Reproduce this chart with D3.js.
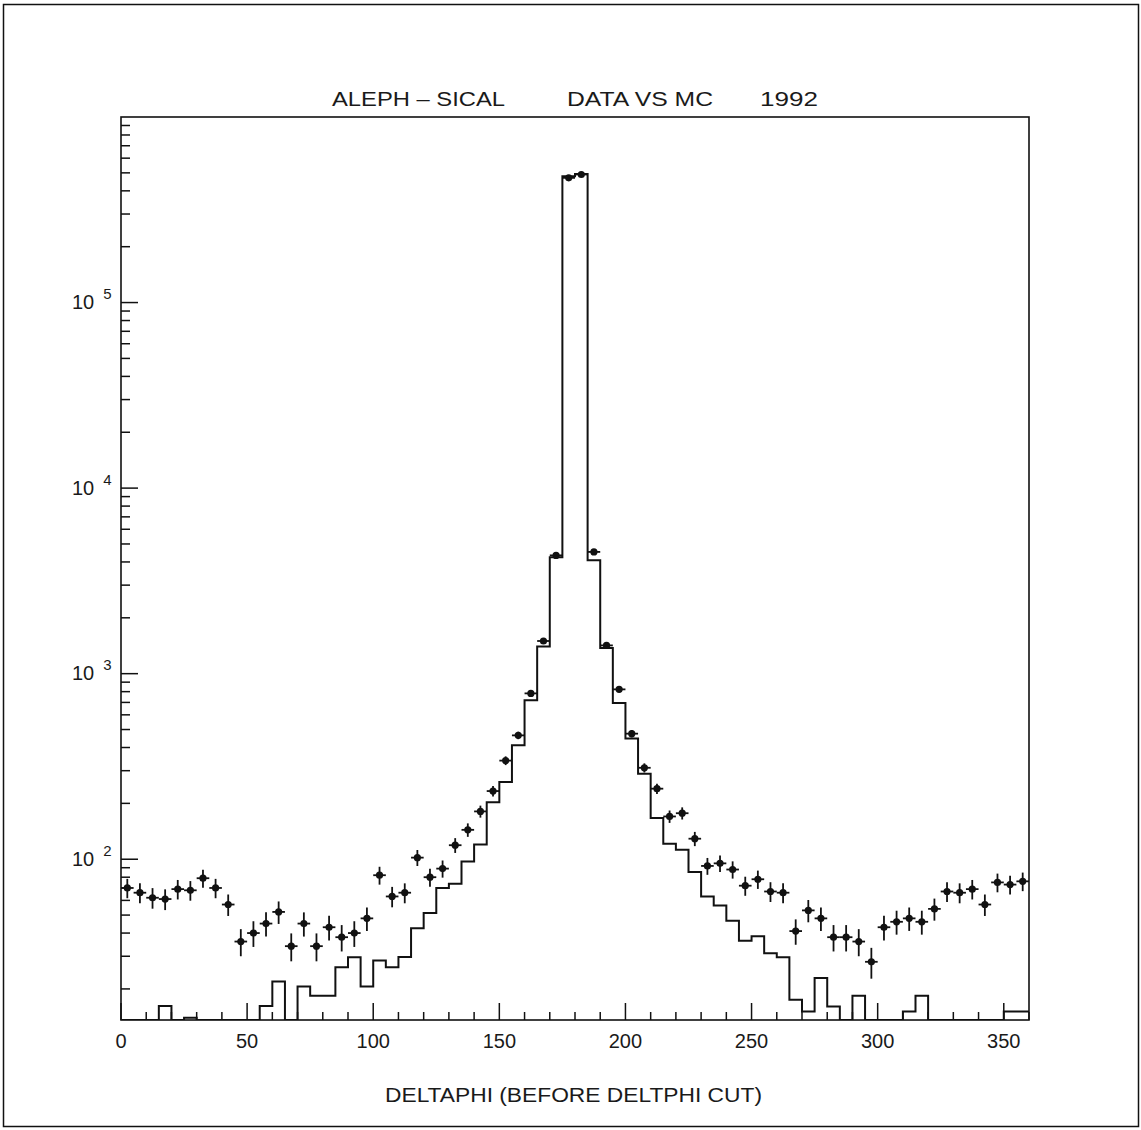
<!DOCTYPE html>
<html>
<head>
<meta charset="utf-8">
<script src="https://cdn.jsdelivr.net/npm/d3@7"></script>
<style>
  body { margin: 0; background: #fff; }
  svg { display: block; }
  text { font-family: "Liberation Sans", Arial, sans-serif; fill: #1a1a1a; }
</style>
</head>
<body>
<div id="chart"></div>
<script>
let w = 1141;
let h = 1130;

// 72 bins of 5 degrees, 0..360
let binWidth = 5;
let binEdges = d3.range(0, 360, binWidth);

// measured data (dots with error bars)
let dataCounts = [70, 66, 62, 61, 69, 68, 79, 70, 57, 36, 40, 45, 52, 34, 45, 34, 43, 38,
    40, 48, 82, 63, 66, 102, 80, 89, 119, 144, 181, 233, 340, 465, 783, 1500, 4340, 470000,
    490000, 4530, 1420, 823, 475, 311, 240, 170, 177, 129, 92, 95, 88, 72, 78, 67, 66, 41,
    53, 48, 38, 38, 36, 28, 43, 46, 48, 46, 54, 67, 66, 69, 57, 75, 73, 76];

// monte carlo histogram
let mcCounts = [0, 0, 0, 16.2, 0, 14, 0, 0, 0, 0, 0, 16.2, 21.9, 0, 20.6, 18.4, 18.4, 26.2,
    29.6, 20.6, 28.5, 26.2, 29.7, 42.4, 51.3, 70, 73.8, 97.3, 120, 203, 261, 411, 718, 1403, 4236, 480000,
    493000, 4080, 1376, 695, 448, 289, 167, 121, 112.5, 85.3, 63, 56.4, 46.6, 36.4, 38.4, 31.1, 29.6, 17.5,
    15.1, 22.9, 16.1, 0, 18.4, 0, 0, 0, 15.1, 18.4, 0, 0, 0, 0, 0, 0, 15.1, 15.1];

let xTicks = [0, 50, 100, 150, 200, 250, 300, 350];
let yDecades = [2, 3, 4, 5];

let pLeft = 121, pRight = 1029, pTop = 117, pBottom = 1020;
let yMin = 13.6, yMax = 1e6;

let svg = d3.select("#chart").append("svg")
    .attr("width", w)
    .attr("height", h);

// outer page border
svg.append("rect")
    .attr("x", 3.5)
    .attr("y", 4.5)
    .attr("width", 1135)
    .attr("height", 1122)
    .attr("fill", "none")
    .attr("stroke", "#111")
    .attr("stroke-width", 1.5);

let x = d3.scaleLinear().domain([0, 360]).range([pLeft, pRight]);
let y = d3.scaleLog().domain([yMin, yMax]).range([pBottom, pTop]);
let yc = v => v <= yMin ? pBottom : Math.max(pTop, y(v));

svg.append("clipPath")
    .attr("id", "frameClip")
    .append("rect")
    .attr("x", pLeft)
    .attr("y", pTop)
    .attr("width", pRight - pLeft)
    .attr("height", pBottom - pTop);

let plot = svg.append("g").attr("clip-path", "url(#frameClip)");

// MC step histogram
let steps = [];
binEdges.forEach((e, i) => {
    steps.push([e, mcCounts[i]]);
    steps.push([e + binWidth, mcCounts[i]]);
});
plot.append("path")
    .attr("d", d3.line().x(d => x(d[0])).y(d => yc(d[1]))(steps))
    .attr("fill", "none")
    .attr("stroke", "#111")
    .attr("stroke-width", 2);

// data points with poisson errors
let pts = plot.selectAll(".pt")
    .data(dataCounts)
    .enter()
    .append("g")
    .attr("class", "pt");
pts.append("line")
    .attr("x1", (d, i) => x(binEdges[i]))
    .attr("x2", (d, i) => x(binEdges[i] + binWidth))
    .attr("y1", d => yc(d))
    .attr("y2", d => yc(d))
    .attr("stroke", "#111")
    .attr("stroke-width", 1.8);
pts.append("line")
    .attr("x1", (d, i) => x(binEdges[i] + binWidth / 2))
    .attr("x2", (d, i) => x(binEdges[i] + binWidth / 2))
    .attr("y1", d => yc(d + Math.sqrt(d)))
    .attr("y2", d => yc(d - Math.sqrt(d)))
    .attr("stroke", "#111")
    .attr("stroke-width", 1.8);
pts.append("circle")
    .attr("cx", (d, i) => x(binEdges[i] + binWidth / 2))
    .attr("cy", d => yc(d))
    .attr("r", 3.6)
    .attr("fill", "#111");

// frame
svg.append("rect")
    .attr("x", pLeft)
    .attr("y", pTop)
    .attr("width", pRight - pLeft)
    .attr("height", pBottom - pTop)
    .attr("fill", "none")
    .attr("stroke", "#111")
    .attr("stroke-width", 1.6);

// x ticks (inward)
let xMinor = d3.range(0, 361, 10);
svg.selectAll(".xt")
    .data(xMinor)
    .enter()
    .append("line")
    .attr("class", "xt")
    .attr("x1", d => x(d))
    .attr("x2", d => x(d))
    .attr("y1", pBottom)
    .attr("y2", d => d % 50 === 0 ? pBottom - 17 : pBottom - 8)
    .attr("stroke", "#111")
    .attr("stroke-width", 1.5);
svg.selectAll(".xl")
    .data(xTicks)
    .enter()
    .append("text")
    .attr("class", "xl")
    .attr("x", d => x(d))
    .attr("y", 1048)
    .attr("text-anchor", "middle")
    .attr("font-size", 20)
    .text(d => d);

// y ticks (inward), log minor ticks
let yMinorVals = [];
for (let dec = 1; dec <= 5; dec++) {
    for (let m = 1; m <= 9; m++) {
        let v = m * Math.pow(10, dec);
        if (v >= yMin && v <= yMax) yMinorVals.push(v);
    }
}
svg.selectAll(".yt")
    .data(yMinorVals)
    .enter()
    .append("line")
    .attr("class", "yt")
    .attr("x1", pLeft)
    .attr("x2", d => (Math.abs(Math.log10(d) % 1) < 1e-9) ? pLeft + 17 : pLeft + 9)
    .attr("y1", d => y(d))
    .attr("y2", d => y(d))
    .attr("stroke", "#111")
    .attr("stroke-width", 1.5);

let yLab = svg.selectAll(".yl")
    .data(yDecades)
    .enter()
    .append("text")
    .attr("class", "yl")
    .attr("x", 72)
    .attr("y", d => y(Math.pow(10, d)) + 6.5)
    .attr("font-size", 20);
yLab.append("tspan").text("10");
yLab.append("tspan")
    .attr("dx", 9)
    .attr("dy", -10)
    .attr("font-size", 15)
    .text(d => d);

// title pieces
let titleParts = [["ALEPH – SICAL", 332, 173], ["DATA VS MC", 567, 146], ["1992", 760, 58]];
svg.selectAll(".title")
    .data(titleParts)
    .enter()
    .append("text")
    .attr("class", "title")
    .attr("x", d => d[1])
    .attr("y", 106)
    .attr("font-size", 21)
    .attr("textLength", d => d[2])
    .attr("lengthAdjust", "spacingAndGlyphs")
    .text(d => d[0]);

svg.append("text")
    .attr("x", 385)
    .attr("y", 1102)
    .attr("font-size", 20)
    .attr("textLength", 377)
    .attr("lengthAdjust", "spacingAndGlyphs")
    .text("DELTAPHI (BEFORE DELTPHI CUT)");
</script>
</body>
</html>
